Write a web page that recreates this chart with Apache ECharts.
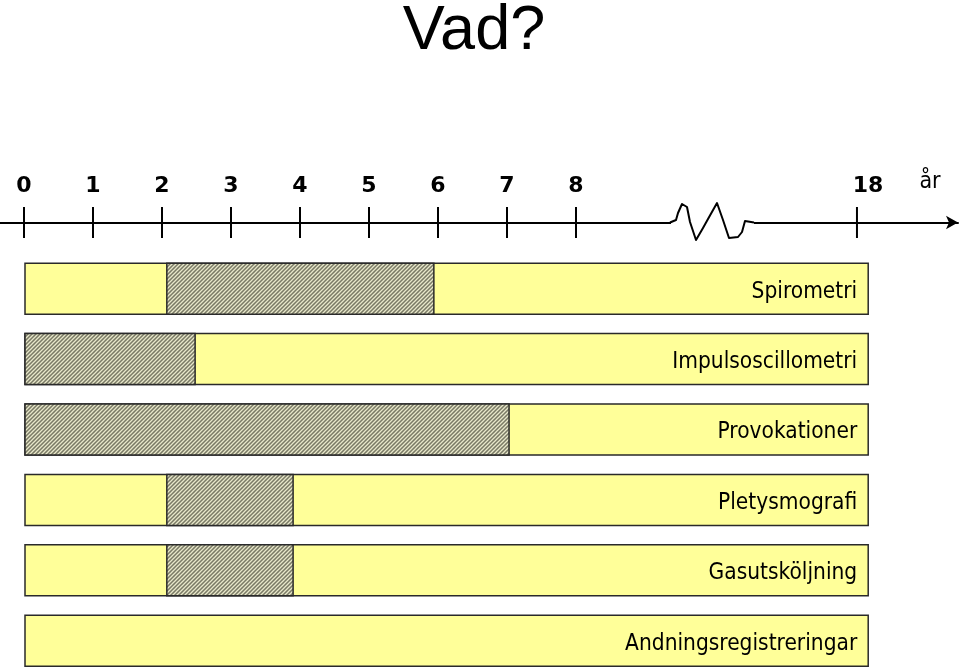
<!DOCTYPE html>
<html><head><meta charset="utf-8">
<script src="https://cdn.jsdelivr.net/npm/echarts@6/dist/echarts.min.js"></script>
<style>html,body{margin:0;padding:0;background:#fff}#c{width:960px;height:669px}</style>
</head><body><div id="c"></div>
<script>
// ---- data ----
const titleText = 'Vad?';
const categories = ['Spirometri', 'Impulsoscillometri', 'Provokationer', 'Pletysmografi', 'Gasutsköljning', 'Andningsregistreringar'];
const hatchStart = [2.07, 0, 0, 2.07, 2.07, null];
const hatchEnd = [5.94, 2.48, 7.03, 3.9, 3.9, null];
const barStart = 0;
const barEnd = 18.4;
const tickAges = [0, 1, 2, 3, 4, 5, 6, 7, 8, 18];
const tickLabels = ['0', '1', '2', '3', '4', '5', '6', '7', '8', '18'];
const unitLabel = 'år';
// broken axis: years after 8 are compressed
const breakFrom = 8;
const breakScale = 0.4072;
function pos(a) { return a <= breakFrom ? a : breakFrom + (a - breakFrom) * breakScale; }

// ---- layout ----
const U = 69;            // px per year before the break
const originPx = 24;     // pixel of year 0
const gridW = 958;
const xMin = -originPx / U;
const xMax = (gridW - originPx) / U;
const rowStep = 70.4;    // px per row
const rowsTop = 253.5;
const rowsH = 669 - rowsTop;

// hatch pattern
const pc = document.createElement('canvas');
pc.width = 4; pc.height = 4;
const g = pc.getContext('2d');
g.fillStyle = '#7a7a66';
g.fillRect(0, 0, 4, 4);
g.strokeStyle = '#e8e8ca';
g.lineWidth = 1.3;
g.beginPath();
g.moveTo(-1, 5); g.lineTo(5, -1);
g.moveTo(-3, 3); g.lineTo(3, -3);
g.moveTo(1, 7); g.lineTo(7, 1);
g.stroke();
const hatchFill = { image: pc, repeat: 'repeat' };

const labelFont = '22.5px "DejaVu Sans Condensed", "DejaVu Sans", sans-serif';

const chart = echarts.init(document.getElementById('c'), null, { renderer: 'canvas' });
chart.setOption({
  animation: false,
  backgroundColor: '#ffffff',
  grid: [
    { left: 0, width: gridW, top: 207, height: 31 },
    { left: 0, width: gridW, top: rowsTop, height: rowsH }
  ],
  xAxis: [
    { type: 'value', gridIndex: 0, min: xMin, max: xMax,
      axisLine: { show: true, onZero: true, lineStyle: { color: '#000', width: 2 }, symbol: ['none', 'arrow'], symbolSize: [10, 12] },
      axisTick: { show: false }, axisLabel: { show: false }, splitLine: { show: false } },
    { type: 'value', gridIndex: 1, min: xMin, max: xMax, show: false, splitLine: { show: false } }
  ],
  yAxis: [
    { type: 'value', gridIndex: 0, min: -1, max: 1, show: false, splitLine: { show: false } },
    { type: 'value', gridIndex: 1, inverse: true, min: -0.5, max: -0.5 + rowsH / rowStep, show: false, splitLine: { show: false } }
  ],
  series: [
    {
      type: 'scatter', xAxisIndex: 0, yAxisIndex: 0, silent: true,
      symbol: 'rect', symbolSize: [2, 31],
      itemStyle: { color: '#000', opacity: 1 },
      data: tickAges.map((a, k) => ({
        value: [pos(a), 0],
        label: k === tickAges.length - 1 ? { offset: [11, 0] } : undefined
      })),
      label: {
        show: true, position: 'top', distance: 10,
        formatter: p => tickLabels[p.dataIndex],
        fontFamily: 'DejaVu Sans', fontWeight: 'bold', fontSize: 22, color: '#000', opacity: 1
      }
    },
    {
      type: 'custom', xAxisIndex: 1, yAxisIndex: 1, silent: true,
      data: categories.map((c, i) => [pos(barEnd), i]),
      encode: { x: 0, y: 1 },
      renderItem: function (params, api) {
        const i = params.dataIndex;
        const yc = api.coord([0, i])[1];
        const h = 51;
        const x0 = api.coord([pos(barStart), i])[0] + 1;
        const x1 = api.coord([pos(barEnd), i])[0];
        const children = [{
          type: 'rect',
          shape: { x: x0, y: yc - h / 2, width: x1 - x0, height: h },
          style: { fill: '#ffff99', stroke: '#2a2a2a', lineWidth: 1.5 }
        }];
        if (hatchEnd[i] != null) {
          const hs = api.coord([pos(hatchStart[i]), i])[0];
          const he = api.coord([pos(hatchEnd[i]), i])[0];
          children.push({
            type: 'rect',
            shape: { x: Math.max(hs, x0), y: yc - h / 2, width: he - Math.max(hs, x0), height: h },
            style: { fill: hatchFill, stroke: '#2a2a2a', lineWidth: 1.5 }
          });
        }
        children.push({
          type: 'text',
          style: { text: categories[i], x: x1 - 11, y: yc + 3, align: 'right', verticalAlign: 'middle', font: labelFont, fill: '#000' }
        });
        return { type: 'group', children: children };
      }
    }
  ],
  graphic: [
    { type: 'text', x: 474, y: 32, style: { text: titleText, align: 'center', verticalAlign: 'middle', font: '63px "Liberation Sans", Arial, sans-serif', fill: '#000' } },
    { type: 'text', x: 930, y: 182, style: { text: unitLabel, align: 'center', verticalAlign: 'middle', font: '23px "DejaVu Sans Condensed", "DejaVu Sans", sans-serif', fill: '#000' } },
    { type: 'rect', z: 100, shape: { x: 671, y: 218, width: 83, height: 9 }, style: { fill: '#fff' } },
    { type: 'polyline', z: 101, shape: { points: [[670, 222.5], [676, 220], [678, 213], [682, 204], [687, 207], [690, 222], [696, 240], [703, 228], [708, 219], [717, 203], [723, 220], [729, 238], [738, 237], [742, 232], [745, 221], [754, 222.5]] },
      style: { stroke: '#000', lineWidth: 2, fill: null, lineJoin: 'round' } }
  ]
});
</script>
</body></html>
